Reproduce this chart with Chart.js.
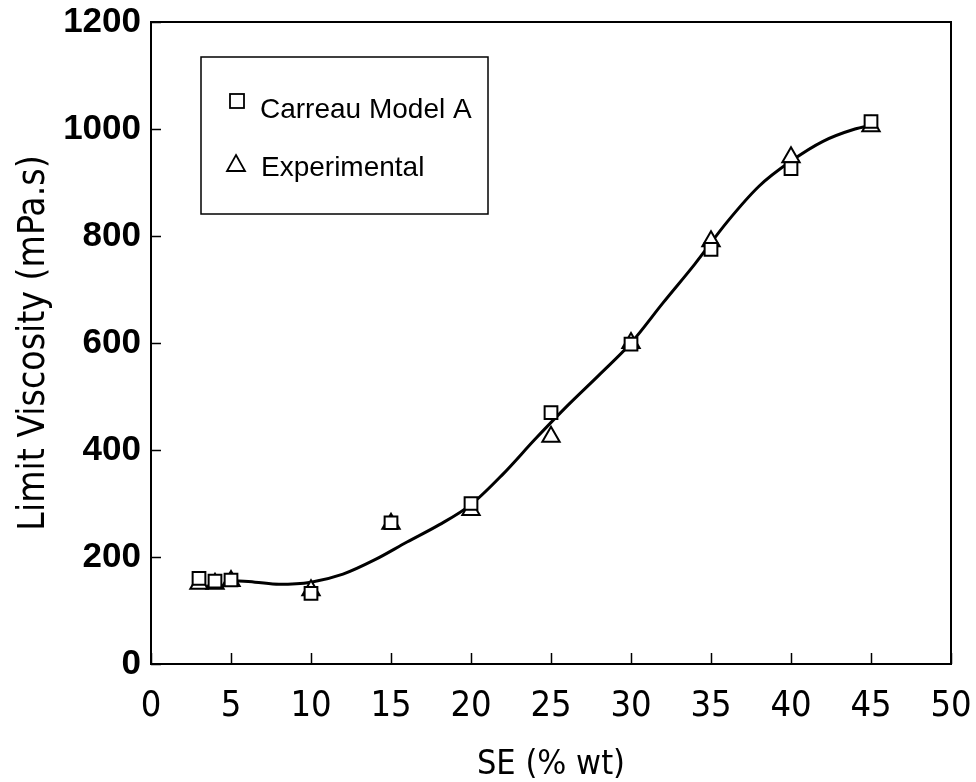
<!DOCTYPE html>
<html>
<head>
<meta charset="utf-8">
<title>Limit viscosity vs SE content</title>
<script src="https://cdn.jsdelivr.net/npm/chart.js@4.4.1/dist/chart.umd.min.js"></script>
<style>
  html, body { margin: 0; padding: 0; background: #fff; }
</style>
</head>
<body>
<canvas id="viscosity-chart" width="976" height="782"></canvas>
<script>
/* Limit viscosity of the SE blends: Carreau model A vs measured values */

// SE content (% wt) for each sample
const seContent = [3, 4, 5, 10, 15, 20, 25, 30, 35, 40, 45];
// limit viscosity (mPa.s)
const carreauA = [160, 155, 157, 132, 264, 300, 470, 598, 775, 926, 1014];
const experimental = [150, 150, 155, 138, 262, 288, 425, 600, 790, 947, 1005];

// smoothed trend line through the data
const trendX = [5, 6.5, 8, 10, 12, 14, 16, 18, 20, 22, 24, 26, 28, 30, 32, 34, 36, 38, 40, 42, 44, 45];
const trendY = [156, 153, 149, 153, 168, 195, 228, 260, 298, 355, 420, 482, 540, 600, 675, 748, 826, 893, 940, 977, 1000, 1007];

const xTicks = [0, 5, 10, 15, 20, 25, 30, 35, 40, 45, 50];
const yTicks = [0, 200, 400, 600, 800, 1000, 1200];

const narrow = "'Liberation Sans Narrow', 'DejaVu Sans Condensed', 'Liberation Sans', sans-serif";
const plain = "'Liberation Sans', Arial, sans-serif";

const toPoints = (xs, ys) => xs.map((x, i) => ({ x, y: ys[i] }));

// box around the plot plus inward tick marks
const framePlugin = {
    id: 'frame',
    beforeDatasetsDraw(chart) {
        const { ctx, chartArea: a, scales } = chart;
        ctx.save();
        ctx.strokeStyle = '#000';
        ctx.lineWidth = 2;
        ctx.strokeRect(a.left, a.top, a.right - a.left, a.bottom - a.top);
        ctx.beginPath();
        scales.x.ticks.forEach(t => {
            const px = Math.round(scales.x.getPixelForValue(t.value)) + 0.5;
            ctx.moveTo(px, a.bottom);
            ctx.lineTo(px, a.bottom - 11);
        });
        scales.y.ticks.forEach(t => {
            const py = Math.round(scales.y.getPixelForValue(t.value)) + 0.5;
            ctx.moveTo(a.left, py);
            ctx.lineTo(a.left + 10, py);
        });
        ctx.lineWidth = 1.5;
        ctx.stroke();
        ctx.restore();
    }
};

// boxed legend sitting inside the plot, upper left
const legendPlugin = {
    id: 'boxLegend',
    afterDraw(chart) {
        const { ctx, chartArea: a } = chart;
        const left = a.left + 50, top = a.top + 35, w = 287, h = 157;
        ctx.save();
        ctx.strokeStyle = '#000';
        ctx.lineWidth = 1.5;
        ctx.strokeRect(left, top, w, h);

        ctx.fillStyle = '#000';
        ctx.font = '28px ' + plain;
        ctx.textBaseline = 'alphabetic';
        ctx.textAlign = 'left';

        // square symbol
        ctx.lineWidth = 1.8;
        ctx.strokeRect(left + 29, top + 37, 14, 14);
        ctx.fillText(chart.data.datasets[0].label, left + 59, top + 61);

        // triangle symbol
        const cx = left + 35, cy = top + 107;
        ctx.beginPath();
        ctx.moveTo(cx, cy - 9);
        ctx.lineTo(cx + 9, cy + 7);
        ctx.lineTo(cx - 9, cy + 7);
        ctx.closePath();
        ctx.stroke();
        ctx.fillText(chart.data.datasets[1].label, left + 60, top + 119);
        ctx.restore();
    }
};

new Chart(document.getElementById('viscosity-chart'), {
    type: 'scatter',
    data: {
        datasets: [
            {
                label: 'Carreau Model A',
                data: toPoints(seContent, carreauA),
                pointStyle: 'rect',
                pointRadius: 9,
                backgroundColor: '#fff',
                borderColor: '#000',
                borderWidth: 2,
                order: 0
            },
            {
                label: 'Experimental',
                data: toPoints(seContent, experimental),
                pointStyle: 'triangle',
                pointRadius: 10,
                backgroundColor: '#fff',
                borderColor: '#000',
                borderWidth: 2,
                order: 1
            },
            {
                label: 'trend',
                data: toPoints(trendX, trendY),
                showLine: true,
                pointRadius: 0,
                borderColor: '#000',
                borderWidth: 3,
                cubicInterpolationMode: 'monotone',
                order: 2
            }
        ]
    },
    options: {
        responsive: false,
        animation: false,
        devicePixelRatio: 1,
        layout: { padding: { top: 22, right: 25, left: 0, bottom: 0 } },
        plugins: {
            legend: { display: false },
            tooltip: { enabled: false }
        },
        scales: {
            x: {
                type: 'linear',
                min: 0,
                max: 50,
                afterBuildTicks: scale => { scale.ticks = xTicks.map(v => ({ value: v })); },
                afterFit: scale => {
                    scale.height = 118;
                    scale.paddingLeft = 0;
                    scale.paddingRight = 0;
                },
                grid: { drawOnChartArea: false, drawTicks: false },
                border: { display: false },
                ticks: {
                    color: '#000',
                    padding: 21,
                    maxRotation: 0,
                    callback: v => String(v),
                    font: { family: narrow, size: 36 }
                },
                title: {
                    display: true,
                    text: 'SE (% wt)',
                    color: '#000',
                    padding: { top: 0, bottom: -4 },
                    font: { family: narrow, size: 34 }
                }
            },
            y: {
                type: 'linear',
                min: 0,
                max: 1200,
                afterBuildTicks: scale => { scale.ticks = yTicks.map(v => ({ value: v })); },
                afterFit: scale => {
                    scale.width = 151;
                    scale.paddingTop = 0;
                    scale.paddingBottom = 0;
                },
                grid: { drawOnChartArea: false, drawTicks: false },
                border: { display: false },
                ticks: {
                    color: '#000',
                    padding: 10,
                    callback: v => String(v),
                    font: { family: plain, size: 35, weight: 'bold' }
                },
                title: {
                    display: true,
                    text: 'Limit Viscosity (mPa.s)',
                    color: '#000',
                    padding: { top: 12, bottom: 0 },
                    font: { family: narrow, size: 37 }
                }
            }
        }
    },
    plugins: [framePlugin, legendPlugin]
});
</script>
</body>
</html>
